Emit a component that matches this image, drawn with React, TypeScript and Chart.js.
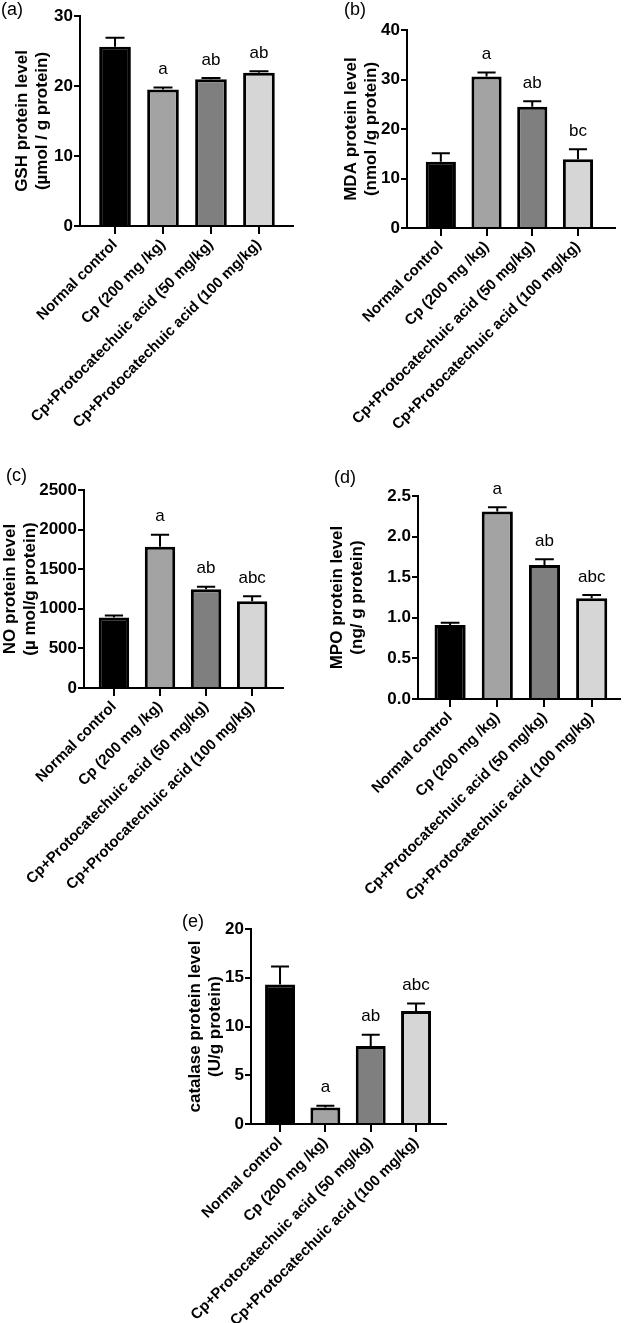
import React, { useEffect, useRef } from 'react';
import { Chart, registerables } from 'chart.js';

Chart.register(...registerables);
Chart.defaults.font.family = "'Liberation Sans', Arial, sans-serif";

const categories = [
  'Normal control',
  'Cp (200 mg /kg)',
  'Cp+Protocatechuic acid (50 mg/kg)',
  'Cp+Protocatechuic acid (100 mg/kg)',
];
const barColors = ['#000000', '#a3a3a3', '#7f7f7f', '#d6d6d6'];

const gshMean = [25.6, 19.5, 20.95, 21.9];
const gshErr = [1.3, 0.3, 0.2, 0.2];
const gshLetters = ['', 'a', 'ab', 'ab'];

const mdaMean = [13.4, 30.6, 24.5, 13.9];
const mdaErr = [1.7, 0.8, 1.1, 2.0];
const mdaLetters = ['', 'a', 'ab', 'bc'];

const noMean = [890, 1785, 1246, 1095];
const noErr = [25, 150, 32, 62];
const noLetters = ['', 'a', 'ab', 'abc'];

const mpoMean = [0.91, 2.31, 1.65, 1.24];
const mpoErr = [0.03, 0.05, 0.07, 0.04];
const mpoLetters = ['', 'a', 'ab', 'abc'];

const catMean = [14.3, 1.7, 8.0, 11.6];
const catErr = [1.85, 0.18, 1.15, 0.75];
const catLetters = ['', 'a', 'ab', 'abc'];

type PanelCfg = {
  tag: string;
  mean: number[];
  err: number[];
  letters: string[];
  title: string[];
  yMax: number;
  yStep: number;
  dec: number;
  box: { left: number; top: number; width: number; height: number };
  area: { left: number; right: number; top: number; bottom: number };
  xRange: [number, number];
  titleX: number;
  tagPos: { x: number; y: number };
};

const panels: PanelCfg[] = [
  {
    tag: '(a)', mean: gshMean, err: gshErr, letters: gshLetters,
    title: ['GSH protein level', '(µmol / g protein)'], yMax: 30, yStep: 10, dec: 0,
    box: { left: 0, top: 0, width: 312, height: 450 },
    area: { left: 80, right: 293, top: 16, bottom: 226 },
    xRange: [-0.73, 3.71], titleX: 22, tagPos: { x: 1, y: -1 },
  },
  {
    tag: '(b)', mean: mdaMean, err: mdaErr, letters: mdaLetters,
    title: ['MDA protein level', '(nmol /g protein)'], yMax: 40, yStep: 10, dec: 0,
    box: { left: 312, top: 0, width: 312, height: 450 },
    area: { left: 95, right: 303, top: 30, bottom: 228 },
    xRange: [-0.74, 3.81], titleX: 39, tagPos: { x: 344, y: -1 },
  },
  {
    tag: '(c)', mean: noMean, err: noErr, letters: noLetters,
    title: ['NO protein level', '(µ mol/g protein)'], yMax: 2500, yStep: 500, dec: 0,
    box: { left: 0, top: 440, width: 312, height: 470 },
    area: { left: 84, right: 283, top: 50, bottom: 248 },
    xRange: [-0.65, 3.67], titleX: 10, tagPos: { x: 6, y: 465 },
  },
  {
    tag: '(d)', mean: mpoMean, err: mpoErr, letters: mpoLetters,
    title: ['MPO protein level', '(ng/ g protein)'], yMax: 2.5, yStep: 0.5, dec: 1,
    box: { left: 312, top: 440, width: 312, height: 475 },
    area: { left: 106, right: 308, top: 56, bottom: 259 },
    xRange: [-0.68, 3.6], titleX: 25, tagPos: { x: 334, y: 467 },
  },
  {
    tag: '(e)', mean: catMean, err: catErr, letters: catLetters,
    title: ['catalase protein level', '(U/g protein)'], yMax: 20, yStep: 5, dec: 0,
    box: { left: 150, top: 880, width: 320, height: 443 },
    area: { left: 101, right: 296, top: 49, bottom: 244 },
    xRange: [-0.64, 3.66], titleX: 45, tagPos: { x: 182, y: 911 },
  },
];

const annot = (p: PanelCfg) => ({
  id: 'annot',
  afterDatasetsDraw(chart: any) {
    const ctx = chart.ctx;
    const meta = chart.getDatasetMeta(0);
    const ys = chart.scales.y;
    ctx.save();
    ctx.strokeStyle = '#000';
    ctx.lineWidth = 2;
    meta.data.forEach((bar: any, i: number) => {
      const { x, width } = bar.getProps(['x', 'width'], true);
      const yTop = ys.getPixelForValue(p.mean[i]);
      const yErr = ys.getPixelForValue(p.mean[i] + p.err[i]);
      const half = width * 0.3;
      ctx.beginPath();
      ctx.moveTo(x, yTop);
      ctx.lineTo(x, yErr);
      ctx.moveTo(x - half, yErr);
      ctx.lineTo(x + half, yErr);
      ctx.stroke();
      if (p.letters[i]) {
        ctx.fillStyle = '#000';
        ctx.font = "17px 'Liberation Sans', Arial, sans-serif";
        ctx.textAlign = 'center';
        ctx.textBaseline = 'middle';
        ctx.fillText(p.letters[i], x, yErr - 18);
      }
    });
    ctx.restore();
  },
});

function Panel({ p }: { p: PanelCfg }) {
  const ref = useRef<HTMLCanvasElement | null>(null);
  useEffect(() => {
    const { box, area } = p;
    const chart = new Chart(ref.current as HTMLCanvasElement, {
      type: 'bar',
      data: {
        datasets: [
          {
            data: p.mean.map((v, i) => ({ x: i, y: v })),
            backgroundColor: barColors,
            borderColor: '#000',
            borderWidth: 3,
            borderSkipped: 'start',
            categoryPercentage: 1,
            barPercentage: 0.66,
          } as any,
        ],
      },
      options: {
        responsive: false,
        animation: false,
        devicePixelRatio: 1,
        layout: { padding: { left: 0, top: area.top, right: box.width - area.right, bottom: 0 } },
        plugins: { legend: { display: false }, tooltip: { enabled: false } },
        scales: {
          x: {
            type: 'linear',
            min: p.xRange[0],
            max: p.xRange[1],
            offset: false,
            afterBuildTicks: (s: any) => {
              s.ticks = categories.map((_, i) => ({ value: i }));
            },
            afterFit: (s: any) => {
              s.height = box.height - area.bottom;
            },
            grid: { drawOnChartArea: false, drawTicks: true, tickLength: 8, color: '#000', lineWidth: 2, offset: false },
            border: { color: '#000', width: 2 },
            ticks: {
              autoSkip: false,
              maxRotation: 45,
              minRotation: 45,
              padding: 2,
              color: '#000',
              font: { size: 15, weight: 'bold' },
              callback: (v: any) => categories[Math.round(Number(v))] ?? '',
            },
          } as any,
          y: {
            min: 0,
            max: p.yMax,
            afterFit: (s: any) => {
              s.width = area.left;
            },
            ticks: {
              stepSize: p.yStep,
              color: '#000',
              padding: 1,
              font: { size: 17, weight: 'bold' },
              callback: (v: any) => Number(v).toFixed(p.dec),
            },
            grid: { drawOnChartArea: false, drawTicks: true, tickLength: 6, color: '#000', lineWidth: 2 },
            border: { color: '#000', width: 2 },
            title: {
              display: true,
              text: p.title,
              color: '#000',
              font: { size: 17, weight: 'bold', lineHeight: 1.2 },
              padding: { top: Math.max(0, p.titleX - 10.2), bottom: 0 },
            },
          } as any,
        },
      },
      plugins: [annot(p)],
    });
    return () => chart.destroy();
  }, []);
  return (
    <canvas
      ref={ref}
      width={p.box.width}
      height={p.box.height}
      style={{ position: 'absolute', left: p.box.left, top: p.box.top, width: p.box.width, height: p.box.height }}
    />
  );
}

export default function App() {
  return (
    <div style={{ position: 'absolute', left: 0, top: 0, width: 624, height: 1323, background: '#fff', overflow: 'hidden' }}>
      {panels.map((p) => (
        <React.Fragment key={p.tag}>
          <Panel p={p} />
          <div
            style={{
              position: 'absolute',
              left: p.tagPos.x,
              top: p.tagPos.y,
              fontFamily: "'Liberation Sans', Arial, sans-serif",
              fontSize: 18,
              lineHeight: '20px',
              color: '#000',
            }}
          >
            {p.tag}
          </div>
        </React.Fragment>
      ))}
    </div>
  );
}
